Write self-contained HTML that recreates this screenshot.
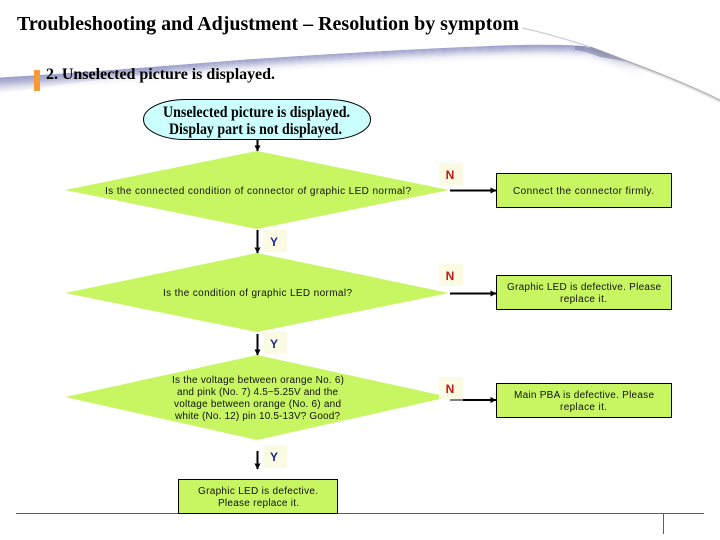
<!DOCTYPE html>
<html><head><meta charset="utf-8"><style>
html,body{margin:0;padding:0;background:#fff}
svg{display:block}
.s{font-family:"Liberation Sans",sans-serif;font-size:10px;fill:#111}
.t{font-family:"Liberation Serif",serif;font-weight:bold;fill:#000}
.l{font-family:"Liberation Sans",sans-serif;font-weight:bold;font-size:12px;text-anchor:middle}
</style></head><body>
<svg width="720" height="540" viewBox="0 0 720 540" xmlns="http://www.w3.org/2000/svg">
<defs>
<marker id="a" markerWidth="6" markerHeight="6" refX="5.5" refY="3" orient="auto" markerUnits="userSpaceOnUse"><path d="M0 0L6 3L0 6z" fill="#000"/></marker>
<path id="c" d="M0 78C100 72 170 66 240 60.5C320 55 400 50 480 47C520 45 560 44.5 590 47C605 52 622 59 645 68" fill="none" stroke-width="1.1"/>
<path id="r" d="M590 47C630 62 680 80 720 100" fill="none" stroke-width="1"/>
<linearGradient id="fx" gradientUnits="userSpaceOnUse" x1="595" y1="0" x2="645" y2="0"><stop offset="0" stop-color="#fff"/><stop offset="1" stop-color="#000"/></linearGradient>
<mask id="m" maskUnits="userSpaceOnUse" x="0" y="0" width="720" height="540"><rect width="720" height="540" fill="url(#fx)"/></mask>
<linearGradient id="lw" gradientUnits="userSpaceOnUse" x1="0" y1="78" x2="1.5" y2="94"><stop offset="0" stop-color="#a6a9cb" stop-opacity=".7"/><stop offset="1" stop-color="#a6a9cb" stop-opacity="0"/></linearGradient>
</defs>

<path d="M0 78C50 75 100 72 170 66L170 72C110 78 50 86 0 94Z" fill="url(#lw)"/>
<g stroke="#989cc8" mask="url(#m)">
<use href="#c" opacity=".95"/>
<use href="#c" y="1" opacity=".88"/>
<use href="#c" y="2" opacity=".8"/>
<use href="#c" y="3" opacity=".7"/>
<use href="#c" y="4" opacity=".6"/>
<use href="#c" y="5" opacity=".5"/>
<use href="#c" y="6" opacity=".4"/>
<use href="#c" y="7" opacity=".3"/>
<use href="#c" y="8" opacity=".22"/>
<use href="#c" y="9" opacity=".16"/>
<use href="#c" y="10" opacity=".11"/>
<use href="#c" y="11" opacity=".07"/>
<use href="#c" y="12" opacity=".05"/>
<use href="#c" y="13" opacity=".03"/>
</g>
<path d="M575 45.5C585 46 600 51 625 61L600 57C590 53 580 50 575 50Z" fill="#7f84ad" opacity=".6"/>
<g stroke="#8a8a92">
<use href="#r" opacity=".7"/>
<use href="#r" y="1" opacity=".4"/>
<use href="#r" y="2" opacity=".2"/>
<use href="#r" y="3" opacity=".08"/>
</g>
<path d="M522 28C550 34 572 41 590 47" fill="none" stroke="#cfcfcf" stroke-width="1.3"/>

<text class="t" x="17" y="30" font-size="20" textLength="502" lengthAdjust="spacing">Troubleshooting and Adjustment – Resolution by symptom</text>
<rect x="34" y="70" width="6" height="21" fill="#f79a35"/>
<text class="t" x="46" y="79" font-size="16" textLength="229" lengthAdjust="spacing">2. Unselected picture is displayed.</text>

<rect x="143.5" y="99.5" width="227" height="40" rx="42" ry="20" fill="#ccffff" stroke="#000" stroke-width="1"/>
<text class="t" x="163" y="117" font-size="15.5" textLength="187" lengthAdjust="spacingAndGlyphs">Unselected picture is displayed.</text>
<text class="t" x="169" y="134" font-size="15.5" textLength="173" lengthAdjust="spacingAndGlyphs">Display part is not displayed.</text>

<polygon points="65,190 257,151 449,190 257,229" fill="#c8f663"/>
<polygon points="65,293 257,253 449,293 257,332" fill="#c8f663"/>
<polygon points="65,397 257,355 449,397 257,440" fill="#c8f663"/>

<g fill="#fbfae3">
<rect x="439" y="163" width="24" height="22"/>
<rect x="439" y="264" width="24" height="22"/>
<rect x="439" y="377" width="24" height="22"/>
<rect x="263" y="230" width="24" height="22"/>
<rect x="263" y="332" width="24" height="22"/>
<rect x="263" y="445" width="24" height="23"/>
</g>

<g stroke="#000" stroke-width="2" fill="none">
<line x1="257.5" y1="139" x2="257.5" y2="151" marker-end="url(#a)"/>
<line x1="257.5" y1="230" x2="257.5" y2="253" marker-end="url(#a)"/>
<line x1="257.5" y1="334" x2="257.5" y2="355" marker-end="url(#a)"/>
<line x1="257.5" y1="451" x2="257.5" y2="469" marker-end="url(#a)"/>
<line x1="450" y1="190.5" x2="496" y2="190.5" marker-end="url(#a)"/>
<line x1="450" y1="293.5" x2="496" y2="293.5" marker-end="url(#a)"/>
<line x1="463" y1="400" x2="496" y2="400" marker-end="url(#a)"/>
<line x1="450" y1="400" x2="463" y2="400" stroke-width="1"/>
</g>

<text class="l" fill="#c01818" x="450" y="179">N</text>
<text class="l" fill="#c01818" x="450" y="280">N</text>
<text class="l" fill="#c01818" x="450" y="393">N</text>
<text class="l" fill="#1a2a90" x="274" y="246">Y</text>
<text class="l" fill="#1a2a90" x="274" y="348">Y</text>
<text class="l" fill="#1a2a90" x="274" y="461">Y</text>

<line x1="16" y1="513.5" x2="704" y2="513.5" stroke="#41648c" stroke-width="1"/>
<line x1="663.5" y1="514" x2="663.5" y2="534" stroke="#41648c" stroke-width="1"/>

<g fill="#c8f663" stroke="#000" stroke-width="1">
<rect x="496.5" y="173.5" width="175" height="34"/>
<rect x="496.5" y="275.5" width="175" height="34"/>
<rect x="496.5" y="383.5" width="175" height="34"/>
<rect x="178.5" y="479.5" width="159" height="34"/>
</g>

<text class="s" x="105" y="194" textLength="306" lengthAdjust="spacing">Is the connected condition of connector of graphic LED normal?</text>
<text class="s" x="163" y="296" textLength="189" lengthAdjust="spacing">Is the condition of graphic LED normal?</text>
<text class="s" x="172" y="383" textLength="172" lengthAdjust="spacing">Is the voltage between orange No. 6)</text>
<text class="s" x="177" y="395" textLength="161" lengthAdjust="spacing">and pink (No. 7) 4.5~5.25V and the</text>
<text class="s" x="174" y="407" textLength="167" lengthAdjust="spacing">voltage between orange (No. 6) and</text>
<text class="s" x="175" y="419" textLength="165" lengthAdjust="spacing">white (No. 12) pin 10.5-13V? Good?</text>
<text class="s" x="198" y="494" textLength="120" lengthAdjust="spacing">Graphic LED is defective.</text>
<text class="s" x="218" y="506" textLength="81" lengthAdjust="spacing">Please replace it.</text>
<text class="s" x="513" y="194" textLength="141" lengthAdjust="spacing">Connect the connector firmly.</text>
<text class="s" x="507" y="290" textLength="154" lengthAdjust="spacing">Graphic LED is defective. Please</text>
<text class="s" x="560" y="302" textLength="47" lengthAdjust="spacing">replace it.</text>
<text class="s" x="514" y="398" textLength="140" lengthAdjust="spacing">Main PBA is defective. Please</text>
<text class="s" x="560" y="410" textLength="47" lengthAdjust="spacing">replace it.</text>
</svg>
</body></html>
